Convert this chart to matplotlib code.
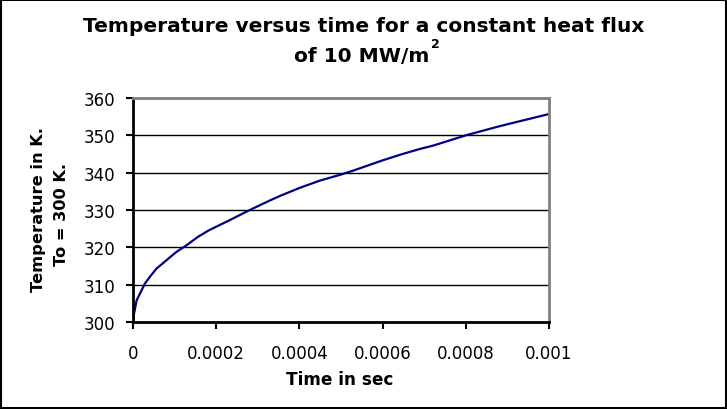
import matplotlib
matplotlib.use("Agg")
import matplotlib.pyplot as plt
from matplotlib.patches import Rectangle

# values
time_s = [0, 0.0000024, 0.0000087, 0.0000167, 0.0000286, 0.0000405, 0.0000564,
          0.00008, 0.000104, 0.000128, 0.000156, 0.000183, 0.000231, 0.000279,
          0.000326, 0.000352, 0.0004, 0.00045, 0.0005, 0.000528, 0.0006,
          0.000648, 0.000688, 0.000723, 0.000803, 0.000883, 0.000923, 0.001]
temp_k = [300.0, 302.2, 305.8, 307.6, 310.3, 312.1, 314.3,
          316.5, 318.75, 320.5, 322.8, 324.6, 327.2, 329.9,
          332.4, 333.7, 335.9, 337.9, 339.5, 340.5, 343.3,
          345.0, 346.3, 347.3, 350.1, 352.5, 353.6, 355.7]

x_ticks = [0, 0.0002, 0.0004, 0.0006, 0.0008, 0.001]
x_labels = ["0", "0.0002", "0.0004", "0.0006", "0.0008", "0.001"]
y_ticks = [300, 310, 320, 330, 340, 350, 360]

plt.rcParams["font.family"] = ["DejaVu Sans"]

W, H = 727, 410
fig = plt.figure(figsize=(W / 100, H / 100), dpi=100)
ax = fig.add_axes([133 / W, 1 - 323 / H, (549 - 133) / W, (323 - 99) / H])

ax.plot(time_s, temp_k, color="#000080", lw=1.6)

ax.set_xlim(0, 0.001)
ax.set_ylim(300, 360)
ax.set_xticks(x_ticks)
ax.set_xticklabels(x_labels)
ax.set_yticks(y_ticks)
ax.tick_params(direction="out", length=5, width=1.5, labelsize=12, colors="black")
ax.tick_params(axis="x", pad=11)
ax.tick_params(axis="y", pad=8)

for y in y_ticks[1:-1]:
    ax.axhline(y, color="black", lw=1, zorder=0)

ax.spines["left"].set_linewidth(2)
ax.spines["bottom"].set_linewidth(2)
for side in ["top", "right"]:
    ax.spines[side].set_color("gray")
    ax.spines[side].set_linewidth(2)

fig.text(364 / W, 1 - 32 / H, "Temperature versus time for a constant heat flux",
         ha="center", va="baseline", fontsize=14.5, fontweight="bold")
# second title line with a small raised "2"
line2 = fig.text(362 / W, 1 - 62 / H, "of 10 MW/m",
                 ha="center", va="baseline", fontsize=14.5, fontweight="bold")
fig.canvas.draw()
bb = line2.get_window_extent()
fig.text(bb.x1 / W + 1 / W, 1 - 48 / H, "2",
         ha="left", va="baseline", fontsize=9, fontweight="bold")

fig.text(38.5 / W, 1 - 210 / H, "Temperature in K.", rotation=90,
         ha="center", va="center", fontsize=11.7, fontweight="bold")
fig.text(61.5 / W, 1 - 214 / H, "To = 300 K.", rotation=90,
         ha="center", va="center", fontsize=11.7, fontweight="bold")
fig.text(340 / W, 1 - 380 / H, "Time in sec",
         ha="center", va="center", fontsize=12.2, fontweight="bold")

fig.patches.append(Rectangle((0.002, 0.003), 0.996, 0.994, transform=fig.transFigure,
                             fill=False, edgecolor="black", lw=1.5))

fig.savefig("out.png", dpi=100)
